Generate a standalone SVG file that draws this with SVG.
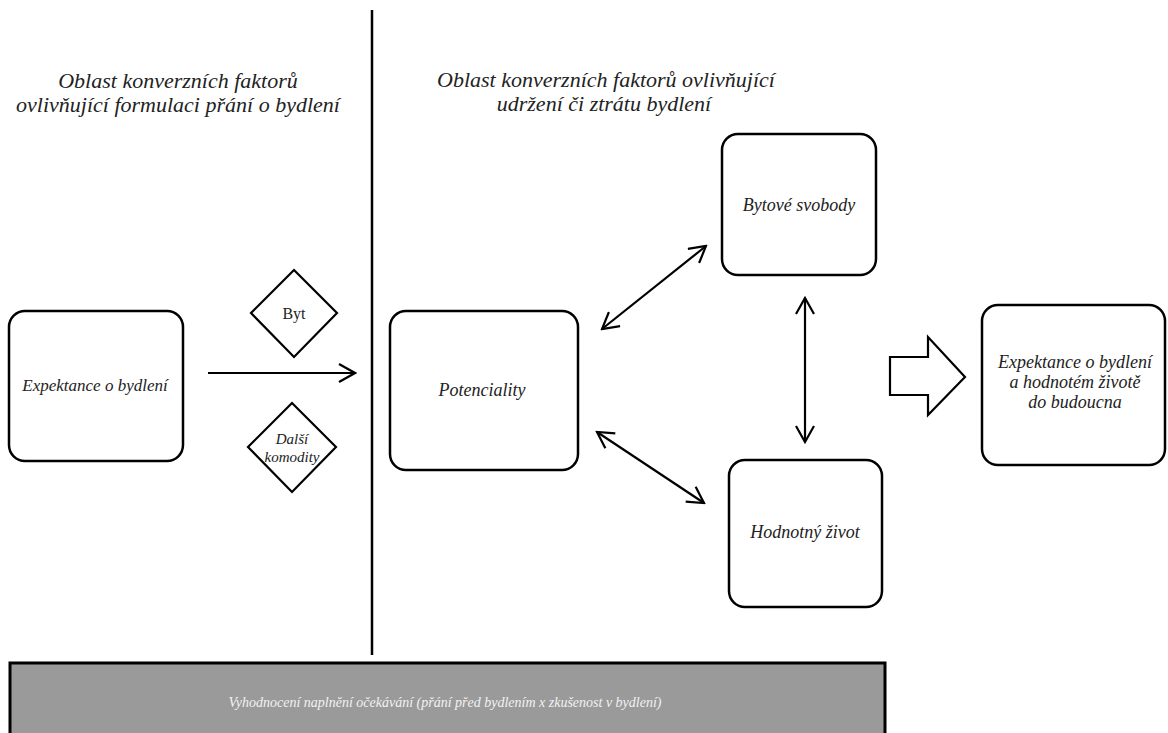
<svg xmlns="http://www.w3.org/2000/svg" width="1168" height="733" viewBox="0 0 1168 733">
<style>
.box{fill:#fff;stroke:#000;stroke-width:2.5}
.dia{fill:#fff;stroke:#000;stroke-width:2.2}
.t{font-family:'Liberation Serif','Times New Roman','DejaVu Serif',serif;font-style:italic;fill:#222;text-anchor:middle}
.h{font-size:22px}
.b{font-size:18px}
.ln{fill:none;stroke:#000;stroke-width:2.2}
</style>
<defs>
<marker id="oa" viewBox="0 0 20 20" refX="18" refY="10" markerWidth="20" markerHeight="20" markerUnits="userSpaceOnUse" orient="auto-start-reverse">
<path d="M2,1 L18,10 L2,19" fill="none" stroke="#000" stroke-width="2.2"/>
</marker>
</defs>
<rect width="1168" height="733" fill="#fff"/>
<g id="divider"><line x1="372" y1="10" x2="372" y2="655" stroke="#000" stroke-width="2.5"/></g>
<g id="heading-left">
<text class="t h" x="178" y="88">Oblast konverzních faktorů</text>
<text class="t h" x="178" y="112">ovlivňující formulaci přání o bydlení</text>
</g>
<g id="heading-right">
<text class="t h" x="606" y="87">Oblast konverzních faktorů ovlivňující</text>
<text class="t h" x="604" y="111">udržení či ztrátu bydlení</text>
</g>
<g id="expektance">
<rect class="box" x="9" y="311" width="174" height="150" rx="16"/>
<text class="t" x="95" y="391" font-size="17">Expektance o bydlení</text>
</g>
<g id="byt">
<polygon class="dia" points="294,270 337,313 294,357 251,313"/>
<text class="t" x="294" y="319" font-size="16" style="font-style:normal">Byt</text>
</g>
<g id="dalsi">
<polygon class="dia" points="292,403 336,447 292,492 248,447"/>
<text class="t" x="292" y="444" font-size="15">Další</text>
<text class="t" x="292" y="462" font-size="15">komodity</text>
</g>
<g id="potenciality">
<rect class="box" x="390" y="311" width="188" height="159" rx="16"/>
<text class="t b" x="482" y="396">Potenciality</text>
</g>
<g id="bytove">
<rect class="box" x="722" y="134" width="154" height="141" rx="16"/>
<text class="t b" x="799" y="211">Bytové svobody</text>
</g>
<g id="hodnotny">
<rect class="box" x="729" y="460" width="153" height="147" rx="16"/>
<text class="t b" x="805" y="538">Hodnotný život</text>
</g>
<g id="budoucna">
<rect class="box" x="982" y="305" width="183" height="160" rx="16"/>
<text class="t b" x="1075" y="368">Expektance o bydlení</text>
<text class="t b" x="1075" y="388">a hodnotém životě</text>
<text class="t b" x="1075" y="408">do budoucna</text>
</g>
<g id="hodnoceni">
<rect x="10" y="663" width="875" height="76" fill="#9a9a9a" stroke="#000" stroke-width="3"/>
<text class="t" x="445" y="707" font-size="14" style="fill:#f2f2f2">Vyhodnocení naplnění očekávání (přání před bydlením x zkušenost v bydlení)</text>
</g>
<g id="connectors">
<line class="ln" x1="208" y1="373" x2="355" y2="373" marker-end="url(#oa)"/>
<line class="ln" x1="602" y1="329" x2="706" y2="246" marker-start="url(#oa)" marker-end="url(#oa)"/>
<line class="ln" x1="597" y1="432" x2="704" y2="503" marker-start="url(#oa)" marker-end="url(#oa)"/>
<line class="ln" x1="805" y1="298" x2="805" y2="442" marker-start="url(#oa)" marker-end="url(#oa)"/>
<polygon points="890,357 928,357 928,337 965,377 928,415 928,395 890,395" fill="#fff" stroke="#000" stroke-width="2.2"/>
</g>
</svg>
